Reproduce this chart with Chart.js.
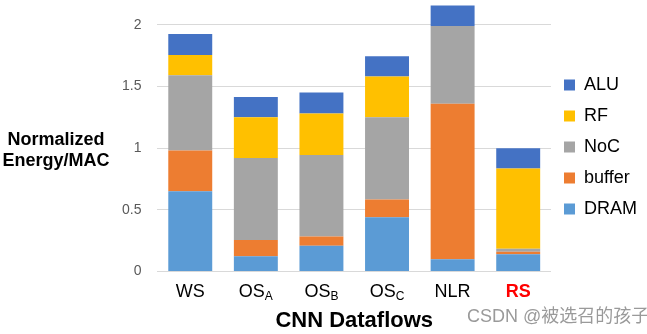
<!DOCTYPE html>
<html>
<head>
<meta charset="utf-8">
<script src="https://cdn.jsdelivr.net/npm/chart.js@4.4.1/dist/chart.umd.min.js"></script>
<style>
  body { margin: 0; background: #fff; }
  #wrap { position: relative; width: 647px; height: 334px; }
</style>
</head>
<body>
<div id="wrap"><canvas id="chartEnergy"></canvas></div>
<script>
const categories = ['WS', 'OS_A', 'OS_B', 'OS_C', 'NLR', 'RS'];
const highlightCategory = 'RS';

const dram   = [0.65, 0.125, 0.21, 0.44, 0.10, 0.14];
const buffer = [0.33, 0.13, 0.075, 0.145, 1.26, 0.02];
const noc    = [0.61, 0.665, 0.66, 0.665, 0.63, 0.025];
const rf     = [0.165, 0.33, 0.335, 0.33, 0, 0.65];
const alu    = [0.17, 0.165, 0.17, 0.165, 0.165, 0.165];

const tickValues = [0, 0.5, 1, 1.5, 2];
const tickLabels = ['0', '0.5', '1', '1.5', '2'];

const yTitle = ['Normalized', 'Energy/MAC'];
const xTitle = 'CNN Dataflows';
const watermark = 'CSDN @被选召的孩子';

const family = '"Liberation Sans", Arial, "Noto Sans CJK SC", sans-serif';
Chart.defaults.font.family = family;

function makeSet(label, data, color) {
    return { label: label, data: data, backgroundColor: color, borderWidth: 0 };
}

// y title is horizontal, x labels carry subscripts
const extraText = {
    id: 'extraText',
    afterLayout(chart) {
        chart.legend.top -= 20;
        chart.legend.bottom -= 20;
    },
    afterDraw(chart) {
        const ctx = chart.ctx;
        const x = chart.scales.x;
        ctx.save();
        ctx.textBaseline = 'alphabetic';

        ctx.fillStyle = '#000';
        ctx.textAlign = 'center';
        ctx.font = 'bold 18px ' + family;
        ctx.fillText(yTitle[0], 56, 145);
        ctx.fillText(yTitle[1], 56, 166);

        ctx.textAlign = 'left';
        categories.forEach((cat, i) => {
            const parts = cat.split('_');
            const hot = cat === highlightCategory;
            const mainFont = (hot ? 'bold ' : '') + '18px ' + family;
            const subFont = '12px ' + family;
            ctx.font = mainFont;
            const w1 = ctx.measureText(parts[0]).width;
            let w2 = 0;
            if (parts[1]) {
                ctx.font = subFont;
                w2 = ctx.measureText(parts[1]).width;
            }
            const left = x.getPixelForValue(i) - (w1 + w2) / 2;
            ctx.fillStyle = hot ? '#FF0000' : '#000';
            ctx.font = mainFont;
            ctx.fillText(parts[0], left, 297);
            if (parts[1]) {
                ctx.font = subFont;
                ctx.fillText(parts[1], left + w1, 300);
            }
        });

        ctx.fillStyle = '#9a9a9a';
        ctx.font = '18px ' + family;
        ctx.fillText(watermark, 467, 322);
        ctx.restore();
    }
};

const ctxEnergy = document.getElementById('chartEnergy').getContext('2d');

const chartEnergy = new Chart(ctxEnergy, {
    type: 'bar',
    data: {
        labels: categories,
        datasets: [
            makeSet('DRAM', dram, '#5B9BD5'),
            makeSet('buffer', buffer, '#ED7D31'),
            makeSet('NoC', noc, '#A5A5A5'),
            makeSet('RF', rf, '#FFC000'),
            makeSet('ALU', alu, '#4472C4')
        ]
    },
    options: {
        animation: false,
        responsive: true,
        maintainAspectRatio: false,
        layout: { padding: { left: 106, right: 0, top: 0, bottom: 0 } },
        datasets: { bar: { categoryPercentage: 1, barPercentage: 0.67 } },
        plugins: {
            legend: {
                position: 'right',
                reverse: true,
                labels: { boxWidth: 11, boxHeight: 11, padding: 13, color: '#000', font: { size: 18 } }
            },
            tooltip: { enabled: false }
        },
        scales: {
            x: {
                stacked: true,
                grid: { display: false, drawTicks: false },
                border: { display: false },
                ticks: { display: false },
                title: {
                    display: true,
                    text: xTitle,
                    color: '#000',
                    font: { size: 22, weight: 'bold' },
                    padding: { top: 36, bottom: 0 }
                }
            },
            y: {
                stacked: true,
                min: 0,
                max: 2.2,
                afterBuildTicks(scale) {
                    scale.ticks = tickValues.map(v => ({ value: v }));
                },
                afterFit(scale) {
                    scale.paddingTop = 0;
                    scale.paddingBottom = 0;
                },
                grid: { color: '#D9D9D9', lineWidth: 1, drawTicks: false },
                border: { display: false },
                ticks: {
                    padding: 16,
                    color: '#595959',
                    font: { size: 14 },
                    callback: (value, index) => tickLabels[index]
                }
            }
        }
    },
    plugins: [extraText]
});
</script>
</body>
</html>
